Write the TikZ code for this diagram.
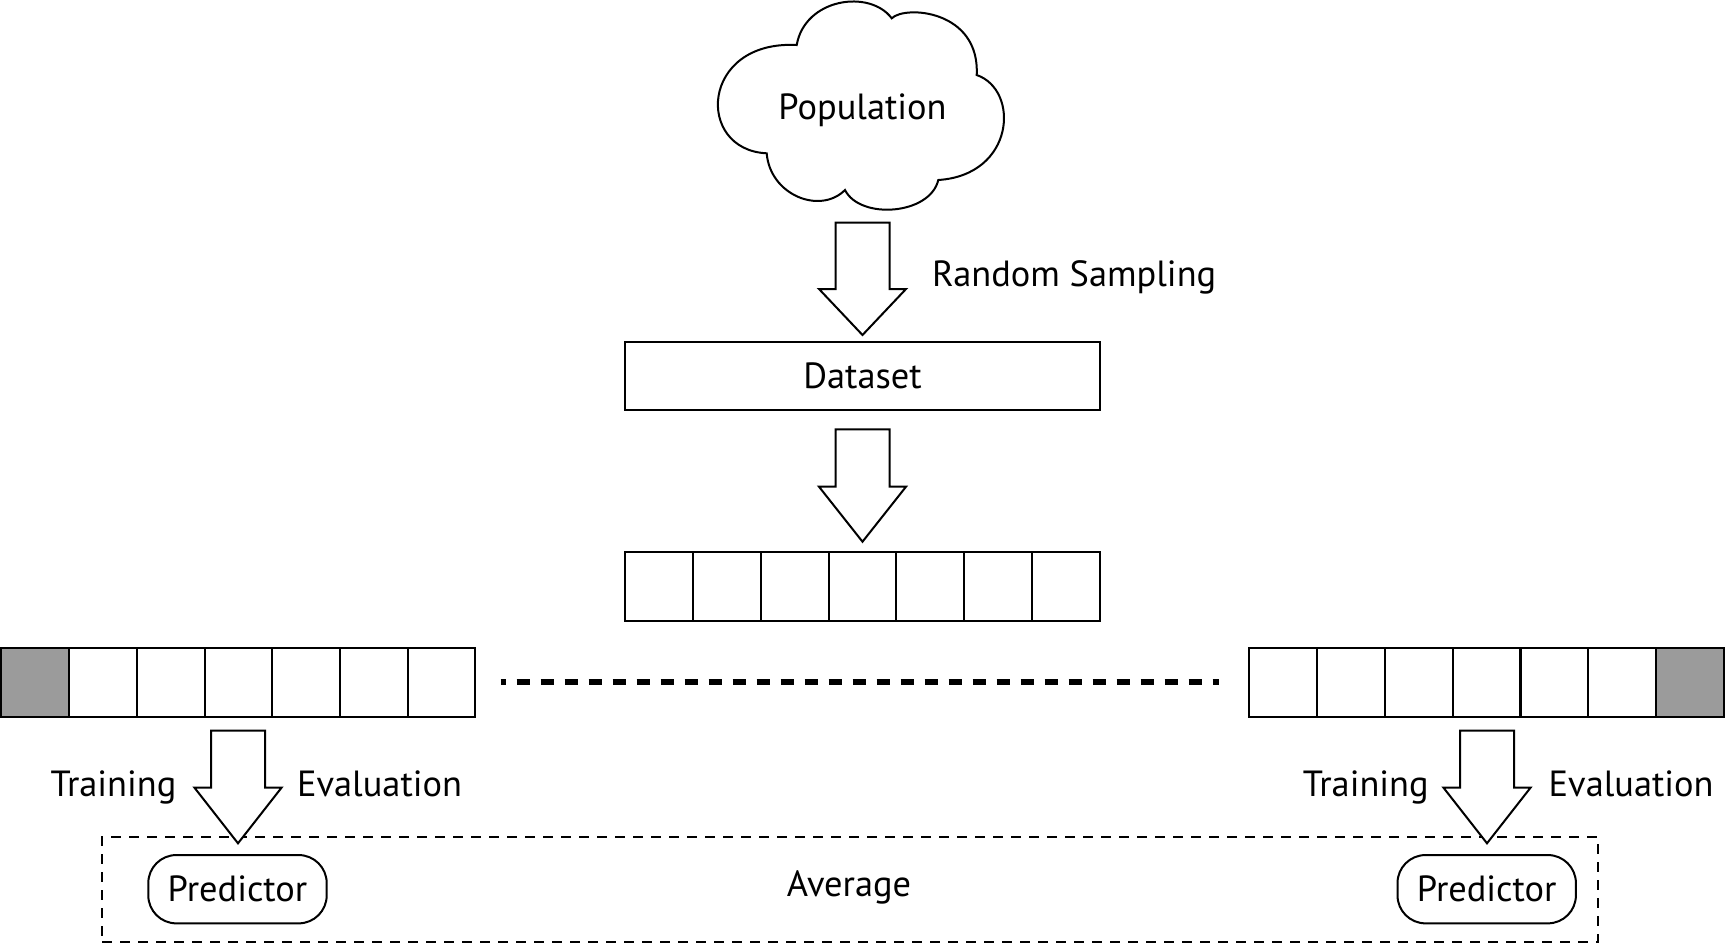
\documentclass[tikz,border=0pt]{standalone}
\usepackage{fontspec}
\setmainfont{PT Sans}
\usetikzlibrary{calc}
\definecolor{cellgray}{RGB}{155,155,155}
\tikzset{
  lbl/.style={inner sep=0pt, font=\fontsize{18.2}{20}\selectfont},
  cell/.style={draw, line width=1pt, minimum width=33.93pt, minimum height=34.2pt, inner sep=0pt, outer sep=0pt},
  graycell/.style={cell, fill=cellgray},
  barrow/.style={draw, line width=1pt, fill=white, line join=miter},
  databox/.style={draw, line width=1pt, minimum width=237.5pt, minimum height=33.85pt, inner sep=0pt, font=\fontsize{18.2}{20}\selectfont},
  predbox/.style={draw, line width=1pt, rounded corners=14pt, minimum width=89.2pt, minimum height=34.15pt, inner sep=0pt, font=\fontsize{18.2}{20}\selectfont},
  avgbox/.style={draw, line width=0.85pt, dash pattern=on 5pt off 4pt, minimum width=747.7pt, minimum height=52.8pt, inner sep=0pt},
  dotline/.style={line width=3pt, dash pattern=on 6.5pt off 5.5pt, dash phase=4pt}
}
\newcommand\blockarrow[3]{%
  \draw[barrow] let \p1=(#1), \p2=(#2) in
    (\x1-13.5pt,\y1) -- (\x1+13.5pt,\y1) -- (\x1+13.5pt,\y2+#3) -- (\x1+21.75pt,\y2+#3)
    -- (\x1,\y2) -- (\x1-21.75pt,\y2+#3) -- (\x1-13.5pt,\y2+#3) -- cycle;}
\begin{document}
\begin{tikzpicture}[x=0.5pt, y=-0.5pt]
\useasboundingbox (0,0) rectangle (1725,944);
% cloud
\draw[line width=1pt, fill=white, line join=miter]
  (796.7,45) .. controls (805,-2) and (870,-11) .. (891.7,18.3)
  .. controls (905,5) and (980,10) .. (976.7,75)
  .. controls (1020,90) and (1015,175) .. (938.3,180)
  .. controls (930,215) and (860,220) .. (845,190)
  .. controls (820,215) and (770,195) .. (766.7,153.3)
  .. controls (695,150) and (700,40) .. cycle;
\node[lbl, anchor=base] (pop) at (862.5,119) {Population};
% arrow 1
\coordinate (a1t) at (862.5,222.7);
\coordinate (a1h) at (862.5,335);
\blockarrow{a1t}{a1h}{23pt}
\node[lbl, anchor=base west] (rs) at (931.7,286.7) {Random Sampling};
% dataset
\node[databox] (ds) at (862.5,376.2) {Dataset};
% arrow 2
\coordinate (a2t) at (862.5,429.3);
\coordinate (a2h) at (862.5,541.7);
\blockarrow{a2t}{a2h}{27.5pt}
% middle array
\foreach \i in {0,...,6} \node[cell] (m\i) at ({625+67.857*(\i+0.5)},586.5) {};
% left array
\foreach \i in {0,...,6} {
  \ifnum\i=0 \node[graycell] (l\i) at ({1.5+67.7*(\i+0.5)},682.5) {};
  \else \node[cell] (l\i) at ({1.5+67.7*(\i+0.5)},682.5) {}; \fi }
% right array
\foreach \i in {0,...,6} {
  \ifnum\i=6 \node[graycell] (r\i) at ({1249.5+67.75*(\i+0.5)},682.5) {};
  \else \node[cell] (r\i) at ({1249.5+67.75*(\i+0.5)},682.5) {}; \fi }
% dotted line
\coordinate (dl) at (500.7,682.3);
\coordinate (dr) at (1219,682.3);
\draw[dotline] (dl) -- (dr);
% average box
\node[avgbox] (avg) at (850,889.5) {};
\node[lbl, anchor=base] (avgtxt) at (849,896.7) {Average};
% left branch
\coordinate (a3t) at (238,730.7);
\coordinate (a3h) at (238,843.3);
\blockarrow{a3t}{a3h}{27.8pt}
\node[lbl, anchor=base east] (tr1) at (176.7,796.7) {Training};
\node[lbl, anchor=base west] (ev1) at (296.7,796.7) {Evaluation};
\node[predbox] (p1) at (237.5,889.2) {Predictor};
% right branch
\coordinate (a4t) at (1487,730.7);
\coordinate (a4h) at (1487,843.3);
\blockarrow{a4t}{a4h}{27.8pt}
\node[lbl, anchor=base east] (tr2) at (1429,796.7) {Training};
\node[lbl, anchor=base west] (ev2) at (1548.3,796.7) {Evaluation};
\node[predbox] (p2) at (1486.7,889.2) {Predictor};
\end{tikzpicture}
\end{document}
